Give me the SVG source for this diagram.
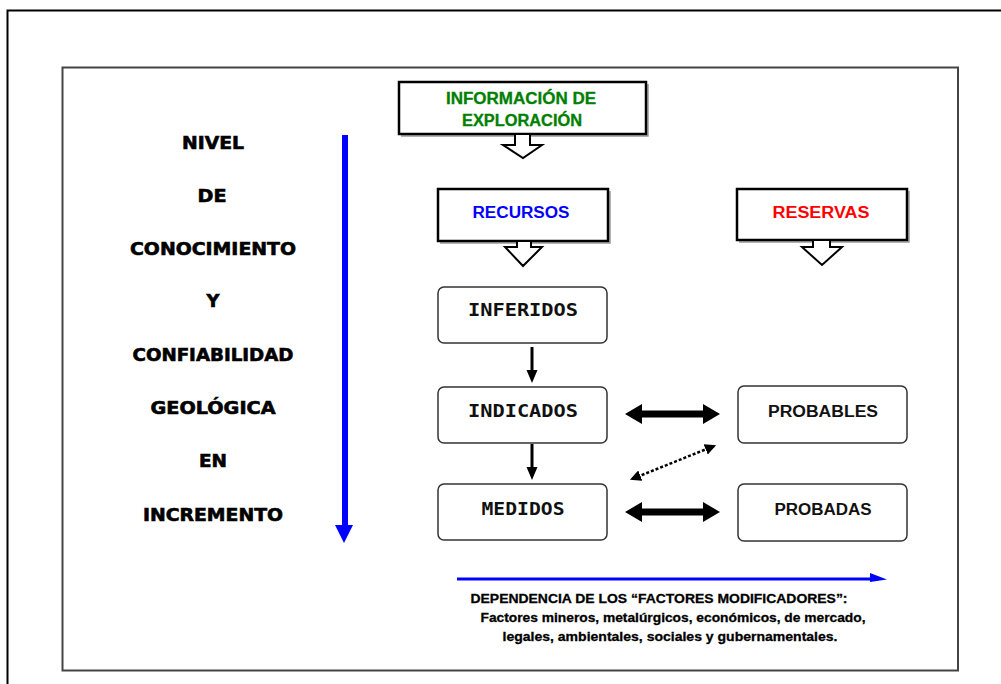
<svg xmlns="http://www.w3.org/2000/svg" width="1001" height="684" viewBox="0 0 1001 684">
<style>
.lbl{font-family:"DejaVu Sans",sans-serif;font-weight:bold;font-size:17px;fill:#000;stroke:#000;stroke-width:0.6;text-anchor:middle}
.mono{font-family:"DejaVu Sans Mono",monospace;font-weight:bold;font-size:17px;fill:#111;text-anchor:middle}
.sans{font-family:"Liberation Sans",Arial,sans-serif;font-weight:bold;font-size:16px;text-anchor:middle}
.foot{font-family:"Liberation Sans",Arial,sans-serif;font-weight:bold;font-size:13.5px;fill:#000;stroke:#000;stroke-width:0.3;text-anchor:middle}
.sq{fill:#fff;stroke:#000;stroke-width:2.5}
.shadow{fill:none;stroke:#999;stroke-width:1.5}
.rb{fill:#fff;stroke:#333;stroke-width:1.5}
.hollow{fill:#fff;stroke:#000;stroke-width:2;stroke-linejoin:miter}
.blk{fill:#000}
</style>
<defs>
<marker id="dh" viewBox="0 0 10 10" refX="8" refY="5" markerWidth="4.5" markerHeight="4.5" orient="auto-start-reverse" markerUnits="strokeWidth">
<path d="M0,0 L10,5 L0,10 Z" fill="#000"/>
</marker>
</defs>
<rect width="1001" height="684" fill="#fff"/>
<rect x="7.5" y="10.5" width="1000" height="700" fill="none" stroke="#000" stroke-width="2"/>
<rect x="62.5" y="67.5" width="895.5" height="603" fill="none" stroke="#444" stroke-width="2"/>

<g id="left-labels">
<text class="lbl" x="213" y="149" textLength="62" lengthAdjust="spacingAndGlyphs">NIVEL</text>
<text class="lbl" x="212" y="202" textLength="29" lengthAdjust="spacingAndGlyphs">DE</text>
<text class="lbl" x="213" y="255" textLength="166" lengthAdjust="spacingAndGlyphs">CONOCIMIENTO</text>
<text class="lbl" x="213" y="307" textLength="13" lengthAdjust="spacingAndGlyphs">Y</text>
<text class="lbl" x="213" y="361" textLength="161" lengthAdjust="spacingAndGlyphs">CONFIABILIDAD</text>
<text class="lbl" x="213" y="414" textLength="125" lengthAdjust="spacingAndGlyphs">GEOLÓGICA</text>
<text class="lbl" x="213" y="467" textLength="28" lengthAdjust="spacingAndGlyphs">EN</text>
<text class="lbl" x="213" y="521" textLength="140" lengthAdjust="spacingAndGlyphs">INCREMENTO</text>
</g>

<g id="info">
<polyline class="shadow" points="648,84 648,136 401,136"/>
<rect class="sq" x="399" y="82" width="247" height="52"/>
<text class="sans" x="521" y="104" fill="#008000" stroke="#008000" stroke-width="0.3" textLength="150" lengthAdjust="spacingAndGlyphs">INFORMACIÓN DE</text>
<text class="sans" x="522" y="126" fill="#008000" stroke="#008000" stroke-width="0.3" textLength="120" lengthAdjust="spacingAndGlyphs">EXPLORACIÓN</text>
</g>
<g id="recursos">
<polyline class="shadow" points="610,191 610,243 440,243"/>
<rect class="sq" x="438" y="189" width="170" height="52"/>
<text class="sans" x="521" y="218" fill="#0000ff" textLength="97" lengthAdjust="spacingAndGlyphs">RECURSOS</text>
</g>
<g id="reservas">
<polyline class="shadow" points="909,191 909,242 739,242"/>
<rect class="sq" x="737" y="189" width="170" height="51"/>
<text class="sans" x="821" y="218" fill="#ff0000" textLength="97" lengthAdjust="spacingAndGlyphs">RESERVAS</text>
</g>
<g id="inferidos">
<rect class="rb" x="438" y="287" width="169" height="56" rx="6"/>
<text class="mono" x="523" y="316" textLength="110" lengthAdjust="spacingAndGlyphs">INFERIDOS</text>
</g>
<g id="indicados">
<rect class="rb" x="438" y="387" width="169" height="56" rx="6"/>
<text class="mono" x="523" y="417" textLength="110" lengthAdjust="spacingAndGlyphs">INDICADOS</text>
</g>
<g id="medidos">
<rect class="rb" x="438" y="484" width="169" height="56" rx="6"/>
<text class="mono" x="523" y="515" textLength="83" lengthAdjust="spacingAndGlyphs">MEDIDOS</text>
</g>
<g id="probables">
<rect class="rb" x="738" y="386" width="169" height="57" rx="6"/>
<text class="sans" x="823" y="417" fill="#111" textLength="110" lengthAdjust="spacingAndGlyphs">PROBABLES</text>
</g>
<g id="probadas">
<rect class="rb" x="738" y="484" width="169" height="57" rx="6"/>
<text class="sans" x="823" y="515" fill="#111" textLength="97" lengthAdjust="spacingAndGlyphs">PROBADAS</text>
</g>

<g id="connectors">
<polygon class="hollow" points="515,134 530,134 530,145 542,145 523,158 503,145 515,145"/>
<polygon class="hollow" points="517,241 531,241 531,247 542,247 523,266 505,247 517,247"/>
<polygon class="hollow" points="813,240 830,240 830,247 842,247 822,265 802,247 813,247"/>
<polygon class="blk" points="530.5,347 533.5,347 533.5,370 537.5,370 532,383 526.5,370 530.5,370"/>
<polygon class="blk" points="530.5,444 533.5,444 533.5,467 537.5,467 532,480 526.5,467 530.5,467"/>
<polygon class="blk" points="625,414 642,404 642,410.5 703,410.5 703,404 720,414 703,424 703,417.5 642,417.5 642,424"/>
<polygon class="blk" points="625,512 642,502 642,508.5 703,508.5 703,502 720,512 703,522 703,515.5 642,515.5 642,522"/>
<line x1="714" y1="446" x2="632" y2="479" stroke="#000" stroke-width="2.5" stroke-dasharray="3 2" marker-start="url(#dh)" marker-end="url(#dh)"/>
<line x1="345" y1="135" x2="345" y2="527" stroke="#0000ff" stroke-width="6"/>
<polygon points="335,525 353,525 344,543" fill="#0000ff"/>
<line x1="457" y1="579" x2="874" y2="579" stroke="#0000ff" stroke-width="3"/>
<polygon points="870,573 887,579.5 870,582" fill="#0000ff"/>
</g>

<g id="footnote">
<text class="foot" x="659" y="603" textLength="377" lengthAdjust="spacingAndGlyphs">DEPENDENCIA DE LOS “FACTORES MODIFICADORES”:</text>
<text class="foot" x="673" y="622" textLength="385" lengthAdjust="spacingAndGlyphs">Factores mineros, metalúrgicos, económicos, de mercado,</text>
<text class="foot" x="670" y="641" textLength="335" lengthAdjust="spacingAndGlyphs">legales, ambientales, sociales y gubernamentales.</text>
</g>
</svg>
